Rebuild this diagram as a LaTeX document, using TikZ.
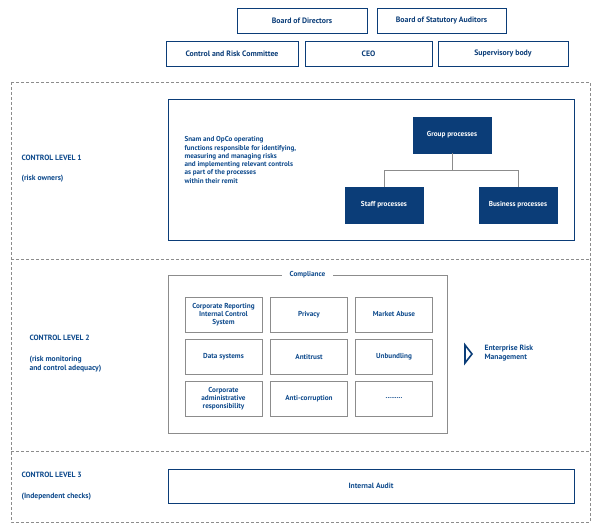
\documentclass[tikz,border=0pt]{standalone}
\usepackage{fontspec}
\setmainfont{PT Sans}
\usetikzlibrary{positioning,calc}
\definecolor{snamblue}{HTML}{0B3D78}
\definecolor{snamtext}{HTML}{0E4A8C}
\definecolor{boxgray}{HTML}{8C8C8C}
\tikzset{
  top/.style={draw=snamblue, thick, fill=white, text=snamblue, font=\fontsize{7.8}{9}\selectfont\bfseries, minimum height=25pt, inner sep=0pt},
  proc/.style={draw=snamblue, fill=snamblue, text=white, font=\fontsize{7.2}{8}\selectfont\bfseries, minimum width=78pt, minimum height=36pt, inner sep=0pt},
  cell/.style={draw=boxgray, thick, text=snamtext, font=\fontsize{7.2}{8}\selectfont\bfseries, minimum width=77pt, minimum height=35pt, inner sep=1pt, align=center},
  lvl/.style={anchor=west, text=snamtext, font=\fontsize{7.6}{9.5}\selectfont\bfseries, align=left},
}
\begin{document}
\begin{tikzpicture}[x=1pt, y=-1pt]
  \useasboundingbox (0,0) rectangle (600,532);

  %governance
  \node[top, minimum width=130pt] (bod) at (302,20.5) {Board of Directors};
  \node[top, minimum width=129pt] (bsa) at (441.5,20.5) {Board of Statutory Auditors};
  \node[top, minimum width=132pt] (crc) at (232,53.5) {Control and Risk Committee};
  \node[top, minimum width=127pt] (ceo) at (368.5,53.5) {CEO};
  \node[top, minimum width=130pt] (sup) at (503,53.5) {Supervisory body};

  %frame
  \draw[boxgray, dash pattern=on 3pt off 2pt] (11,82) rectangle (590,522);
  \draw[boxgray, dash pattern=on 3pt off 2pt] (11,259) -- (590,259);
  \draw[boxgray, dash pattern=on 3pt off 2pt] (11,451) -- (590,451);

  %level 1
  \node[lvl] (l1) at (18,158) {CONTROL LEVEL 1};
  \node[lvl] (l1b) at (18,179) {(risk owners)};
  \draw[snamblue, thick] (168,99) rectangle (574,240);
  \node[lvl, font=\fontsize{7.1}{8.3}\selectfont\bfseries] (own) at (181,160)
    {Snam and OpCo operating\\functions responsible for identifying,\\measuring and managing risks\\and implementing relevant controls\\as part of the processes\\within their remit};
  \node[proc] (grp) at (452,135) {Group processes};
  \node[proc] (stf) at (384,205) {Staff processes};
  \node[proc] (bus) at (518,205) {Business processes};
  \draw[boxgray, thick] (grp.south) -- ++(0,17) -| (stf.north);
  \draw[boxgray, thick] (grp.south) -- ++(0,17) -| (bus.north);

  %level 2
  \node[lvl] (l2) at (26,338) {CONTROL LEVEL 2};
  \node[lvl] (l2b) at (26,364) {(risk monitoring\\and control adequacy)};
  \draw[boxgray, thick] (168,275) rectangle (447,433);
  \node[fill=white, text=snamtext, font=\fontsize{7.2}{8}\selectfont\bfseries, inner xsep=8pt] (comp) at (307.5,275) {Compliance};
  \node[cell] (c11) at (223.5,314.5) {Corporate Reporting\\Internal Control\\System};
  \node[cell] (c12) at (309,314.5) {Privacy};
  \node[cell] (c13) at (394,314.5) {Market Abuse};
  \node[cell] (c21) at (223.5,356.5) {Data systems};
  \node[cell] (c22) at (309,356.5) {Antitrust};
  \node[cell] (c23) at (394,356.5) {Unbundling};
  \node[cell] (c31) at (223.5,398.5) {Corporate\\administrative\\responsibility};
  \node[cell] (c32) at (309,398.5) {Anti-corruption};
  \node[cell] (c33) at (394,398.5) {.........};
  \draw[snamblue, line width=1.6pt, line join=miter] (465,345) -- (472,354) -- (465,363) -- cycle;
  \node[lvl] (erm) at (481,353) {Enterprise Risk\\Management};

  %level 3
  \node[lvl] (l3) at (18,475) {CONTROL LEVEL 3};
  \node[lvl] (l3b) at (18,497) {(Independent checks)};
  \node[draw=snamblue, thick, text=snamtext, font=\fontsize{7.6}{9}\selectfont\bfseries, minimum width=406pt, minimum height=34pt, inner sep=0pt] (ia) at (371,486) {Internal Audit};
\end{tikzpicture}
\end{document}
